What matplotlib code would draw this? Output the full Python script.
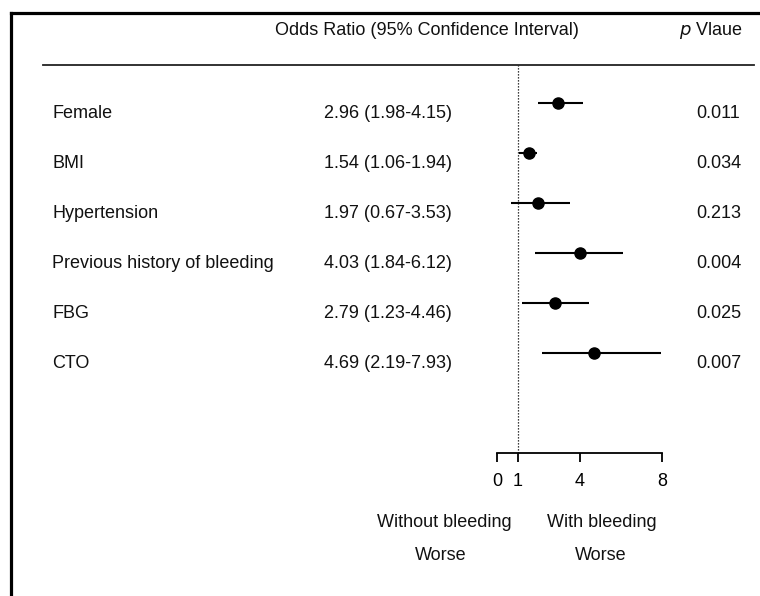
import matplotlib
matplotlib.use('Agg')
import matplotlib.pyplot as plt
from matplotlib import font_manager
from matplotlib.lines import Line2D
from matplotlib.transforms import blended_transform_factory

# data
variables = ['Female', 'BMI', 'Hypertension', 'Previous history of bleeding', 'FBG', 'CTO']
odds = [2.96, 1.54, 1.97, 4.03, 2.79, 4.69]
ci_low = [1.98, 1.06, 0.67, 1.84, 1.23, 2.19]
ci_high = [4.15, 1.94, 3.53, 6.12, 4.46, 7.93]
p_values = ['0.011', '0.034', '0.213', '0.004', '0.025', '0.007']
x_ticks = [0, 1, 4, 8]

W, H = 760, 596

names = {f.name for f in font_manager.fontManager.ttflist}
if 'Liberation Sans Narrow' in names:
    FONT, FS = 'Liberation Sans Narrow', 15
else:
    FONT, FS = 'Liberation Sans', 13
plt.rcParams['font.family'] = [FONT, 'DejaVu Sans']


def fx(px):
    return px / W


def fy(py):
    return 1 - py / H


fig = plt.figure(figsize=(W / 100, H / 100), dpi=100)

# forest axes: x = 0..8 between px 497 and 662, rows 50 px apart
ax = fig.add_axes([fx(497), fy(453), fx(662) - fx(497), fy(65) - fy(453)])
ax.set_xlim(0, 8)
ax.set_ylim(7.01, -0.75)
rows = list(range(len(variables)))

for i in rows:
    ax.plot([ci_low[i], ci_high[i]], [i, i], color='black', lw=1.5,
            solid_capstyle='butt', clip_on=False)
ax.plot(odds, rows, 'o', color='black', markersize=8, clip_on=False)
ax.axvline(1, color='black', lw=0.9, ls=(0, (1, 1.4)))

for s in ['top', 'left', 'right']:
    ax.spines[s].set_visible(False)
ax.spines['bottom'].set_bounds(0, 8)
ax.spines['bottom'].set_linewidth(1.3)
ax.set_yticks([])
ax.set_xticks(x_ticks)
ax.set_xticklabels([str(t) for t in x_ticks])
ax.tick_params(axis='x', direction='out', length=6.5, width=1.3, pad=8,
               labelsize=FS, colors='black')
ax.patch.set_alpha(0)

# row text columns
tr = blended_transform_factory(fig.transFigure, ax.transData)
for i, name in enumerate(variables):
    y = i + 0.31
    fig.text(fx(52), y, name, transform=tr, fontsize=FS, va='baseline', ha='left', color='#111111')
    fig.text(fx(324), y, f"{odds[i]:.2f} ({ci_low[i]:.2f}-{ci_high[i]:.2f})", transform=tr,
             fontsize=FS, va='baseline', ha='left', color='#111111')
    fig.text(fx(696), y, p_values[i], transform=tr, fontsize=FS, va='baseline', ha='left',
             color='#111111')

# header
fig.text(fx(427), fy(35), 'Odds Ratio (95% Confidence Interval)', fontsize=FS,
         ha='center', va='baseline', color='#111111')
fig.text(fx(711), fy(35), r'$\it{p}$ Vlaue', fontsize=FS, ha='center', va='baseline',
         color='#111111')
fig.add_artist(Line2D([fx(43), fx(754)], [fy(65), fy(65)], transform=fig.transFigure,
                      color='#222222', lw=1.3))

# direction labels under the axis
fig.text(fx(444), fy(527), 'Without bleeding', fontsize=FS, ha='center', va='baseline', color='#111111')
fig.text(fx(441), fy(560), 'Worse', fontsize=FS, ha='center', va='baseline', color='#111111')
fig.text(fx(602), fy(527), 'With bleeding', fontsize=FS, ha='center', va='baseline', color='#111111')
fig.text(fx(601), fy(560), 'Worse', fontsize=FS, ha='center', va='baseline', color='#111111')

# outer frame (top and left only)
fig.add_artist(Line2D([fx(10.5), fx(760)], [fy(12.5), fy(12.5)], transform=fig.transFigure,
                      color='black', lw=2.3))
fig.add_artist(Line2D([fx(10.5), fx(10.5)], [fy(12.5), fy(596)], transform=fig.transFigure,
                      color='black', lw=2.3))

fig.savefig('out.png', dpi=100)
